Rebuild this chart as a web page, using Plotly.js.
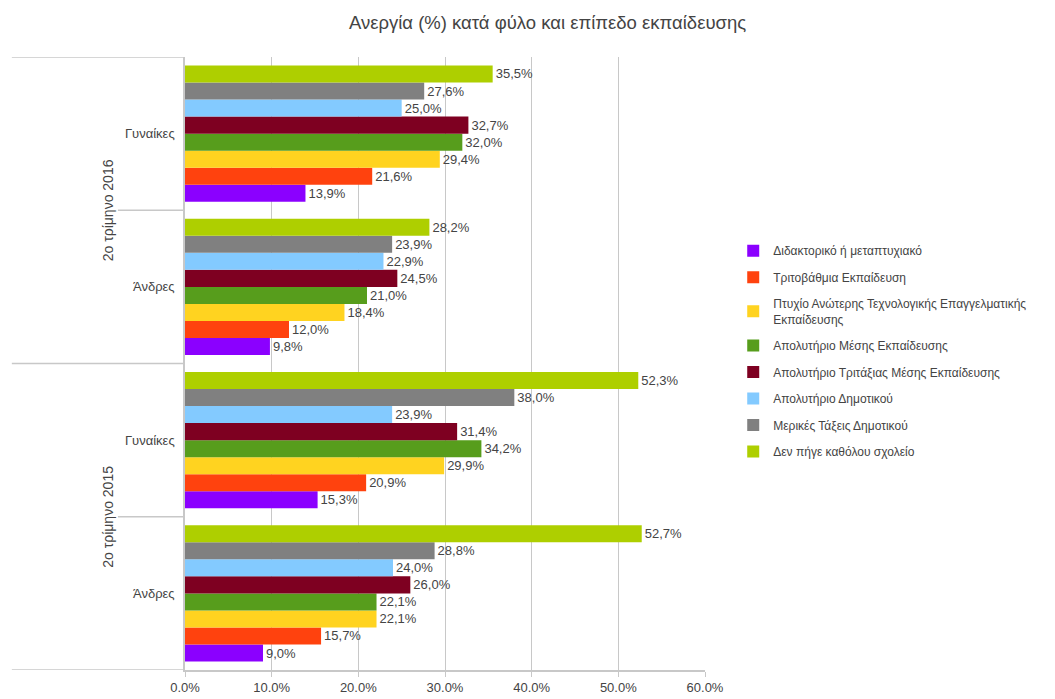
<!DOCTYPE html>
<html>
<head>
<meta charset="utf-8">
<script src="https://cdn.plot.ly/plotly-3.0.1.min.js"></script>
<style>html,body{margin:0;padding:0;background:#fff;}#chart{width:1055px;height:699px;}</style>
</head>
<body>
<div id="chart"></div>
<script>
// Categories (bottom to top on the chart)
const periods = ['2ο τρίμηνο 2015', '2ο τρίμηνο 2015', '2ο τρίμηνο 2016', '2ο τρίμηνο 2016'];
const sexes = ['Άνδρες', 'Γυναίκες', 'Άνδρες', 'Γυναίκες'];

// Series names (legend order)
const seriesNames = [
  'Διδακτορικό ή μεταπτυχιακό',
  'Τριτοβάθμια Εκπαίδευση',
  'Πτυχίο Ανώτερης Τεχνολογικής Επαγγελματικής<br>Εκπαίδευσης',
  'Απολυτήριο Μέσης Εκπαίδευσης',
  'Απολυτήριο Τριτάξιας Μέσης Εκπαίδευσης',
  'Απολυτήριο Δημοτικού',
  'Μερικές Τάξεις Δημοτικού',
  'Δεν πήγε καθόλου σχολείο'
];

// Values (%) per category, same order as periods/sexes
const doctorate      = [9.0, 15.3, 9.8, 13.9];
const tertiary       = [15.7, 20.9, 12.0, 21.6];
const techVocational = [22.1, 29.9, 18.4, 29.4];
const secondary      = [22.1, 34.2, 21.0, 32.0];
const lowerSecondary = [26.0, 31.4, 24.5, 32.7];
const primary        = [24.0, 23.9, 22.9, 25.0];
const somePrimary    = [28.8, 38.0, 23.9, 27.6];
const noSchool       = [52.7, 52.3, 28.2, 35.5];

const seriesValues = [doctorate, tertiary, techVocational, secondary, lowerSecondary, primary, somePrimary, noSchool];
const seriesColors = ['#8b00ff', '#ff420e', '#ffd320', '#579d1c', '#7e0021', '#83caff', '#808080', '#aecf00'];

const xTicks = [0, 10, 20, 30, 40, 50, 60];

const FONT = '"Liberation Sans", Arial, sans-serif';

const catKeys = sexes.map((s, i) => s + ' | ' + periods[i]);

const traces = seriesValues.map((vals, k) => ({
  type: 'bar',
  orientation: 'h',
  name: seriesNames[k],
  legendgroup: 'g' + k,
  x: vals,
  y: catKeys,
  marker: {color: seriesColors[k], line: {width: 0}},
  text: vals.map(v => v.toFixed(1).replace('.', ',') + '%'),
  textposition: 'outside',
  textfont: {family: FONT, size: 13, color: '#444'},
  constraintext: 'none',
  cliponaxis: false,
  hoverinfo: 'x+name'
}));

const outerPeriods = [];
periods.forEach((p, i) => { if (outerPeriods.indexOf(p) < 0) outerPeriods.push(p); });

const annotations = outerPeriods.map(p => {
  const idx = periods.map((q, i) => q === p ? i : -1).filter(i => i >= 0);
  const mid = (idx[0] + idx[idx.length - 1]) / 2;
  return {
    xref: 'paper', yref: 'y', x: -0.148, y: mid,
    text: p, showarrow: false, textangle: -90,
    font: {family: FONT, size: 14, color: '#444'},
    xanchor: 'center', yanchor: 'middle'
  };
});

const lineStyle = {color: '#c8c8c8', width: 1.5};
const shapes = [
  {type: 'line', xref: 'paper', yref: 'y', x0: -0.333, x1: 0, y0: 3.5, y1: 3.5, line: lineStyle},
  {type: 'line', xref: 'paper', yref: 'y', x0: -0.129, x1: 0, y0: 2.5, y1: 2.5, line: lineStyle},
  {type: 'line', xref: 'paper', yref: 'y', x0: -0.333, x1: 0, y0: 1.5, y1: 1.5, line: lineStyle},
  {type: 'line', xref: 'paper', yref: 'y', x0: -0.129, x1: 0, y0: 0.5, y1: 0.5, line: lineStyle},
  {type: 'line', xref: 'paper', yref: 'y', x0: -0.333, x1: 0, y0: -0.5, y1: -0.5, line: lineStyle}
];

const layout = {
  width: 1055, height: 699,
  paper_bgcolor: '#ffffff', plot_bgcolor: '#ffffff',
  margin: {l: 185, r: 350, t: 57, b: 29, autoexpand: false},
  font: {family: FONT, color: '#444'},
  title: {
    text: 'Ανεργία (%) κατά φύλο και επίπεδο εκπαίδευσης',
    x: 0.519, xref: 'container', xanchor: 'center',
    y: 0.968, yref: 'container', yanchor: 'middle',
    font: {family: FONT, size: 18.5, color: '#444'}
  },
  barmode: 'group',
  bargap: 0.11,
  bargroupgap: 0,
  xaxis: {
    range: [0, 60],
    tickvals: xTicks,
    ticktext: xTicks.map(v => v.toFixed(1) + '%'),
    showgrid: true, gridcolor: '#c8c8c8', gridwidth: 1,
    zeroline: false,
    showline: true, linecolor: '#c8c8c8', linewidth: 1.5,
    ticks: 'outside', ticklen: 5, tickcolor: '#c8c8c8',
    tickfont: {family: FONT, size: 13, color: '#444'},
    fixedrange: true
  },
  yaxis: {
    type: 'category',
    categoryorder: 'array', categoryarray: catKeys,
    range: [-0.5, 3.5],
    tickmode: 'array', tickvals: catKeys, ticktext: sexes,
    showgrid: false, zeroline: false,
    showline: true, linecolor: '#c8c8c8', linewidth: 1.5,
    ticks: '', ticklabelstandoff: 6,
    tickfont: {family: FONT, size: 13, color: '#444'},
    fixedrange: true
  },
  legend: {
    xref: 'container', yref: 'container',
    x: 0.695, xanchor: 'left',
    y: 0.662, yanchor: 'top',
    traceorder: 'grouped',
    tracegroupgap: 7.5,
    itemwidth: 30,
    font: {family: FONT, size: 12, color: '#444'},
    bgcolor: 'rgba(0,0,0,0)'
  },
  annotations: annotations,
  shapes: shapes,
  showlegend: true
};

Plotly.newPlot('chart', traces, layout, {displayModeBar: false, responsive: false});
</script>
</body>
</html>
